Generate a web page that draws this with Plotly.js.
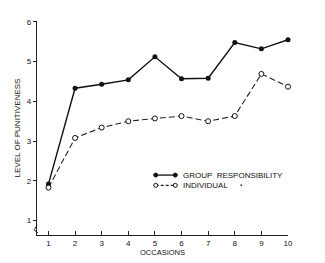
<!DOCTYPE html>
<html><head><meta charset="utf-8">
<script src="https://cdn.plot.ly/plotly-3.0.1.min.js"></script>
<style>body{margin:0;background:#fff}#c{width:325px;height:263px}</style>
</head><body><div id="c"></div>
<script>
const occasions = [1,2,3,4,5,6,7,8,9,10];
const groupResp = [1.92,4.33,4.43,4.54,5.12,4.57,4.58,5.48,5.32,5.55];
const individual = [1.83,3.08,3.34,3.50,3.57,3.63,3.50,3.63,4.69,4.37];
const yTicks = [1,2,3,4,5,6];
const seriesNames = ['GROUP  RESPONSIBILITY', 'INDIVIDUAL'];

const ink = '#111';
const font = {family:'Liberation Sans, Arial, sans-serif', color:ink, size:8};
const traces = [
 {x:occasions, y:groupResp, name:seriesNames[0], mode:'lines+markers', cliponaxis:false, showlegend:false,
  line:{color:ink, width:1.4}, marker:{color:ink, size:5, symbol:'circle'}},
 {x:occasions, y:individual, name:seriesNames[1], mode:'lines+markers', cliponaxis:false, showlegend:false,
  line:{color:'#222', width:1.1, dash:'6px,3px'}, marker:{color:'#fff', size:5, symbol:'circle', line:{color:ink, width:1}}}
];

// manual legend (paper coordinates)
const lgX0 = 0.473, lgX1 = 0.551, lgTx = 0.575, lgY = [0.280, 0.232];
const circ = (x, y, filled) => ({type:'circle', xref:'paper', yref:'paper', xsizemode:'pixel', ysizemode:'pixel',
  xanchor:x, yanchor:y, x0:-2, x1:2, y0:-2, y1:2, fillcolor: filled ? ink : '#fff', line:{color:ink, width:1}});
const shapes = [
 {type:'line', xref:'paper', yref:'paper', x0:lgX0, x1:lgX1, y0:lgY[0], y1:lgY[0], line:{color:ink, width:1.3}},
 circ(lgX0, lgY[0], true), circ(lgX1, lgY[0], true),
 {type:'line', xref:'paper', yref:'paper', x0:lgX0, x1:lgX1, y0:lgY[1], y1:lgY[1], line:{color:'#222', width:1.1, dash:'3px,2px'}},
 circ(lgX0, lgY[1], false), circ(lgX1, lgY[1], false),
 // axis break mark
 {type:'path', xref:'paper', yref:'paper', path:'M 0,0.045 L -0.012,0.024 L 0.004,0.010', line:{color:'#222', width:1}}
];
const annotations = [
 {xref:'paper', yref:'paper', x:lgTx, y:lgY[0], xanchor:'left', yanchor:'middle', text:seriesNames[0], showarrow:false, font:{size:8}},
 {xref:'paper', yref:'paper', x:lgTx, y:lgY[1], xanchor:'left', yanchor:'middle', text:seriesNames[1], showarrow:false, font:{size:8}},
 {xref:'paper', yref:'paper', x:0.814, y:0.232, xanchor:'center', yanchor:'middle', text:'▪', showarrow:false, font:{size:6}}
];
const layout = {
 width:325, height:263, margin:{l:37, r:37, t:21, b:28},
 paper_bgcolor:'#fff', plot_bgcolor:'#fff', font:font, showlegend:false,
 xaxis:{range:[0.57,10.0], tickvals:occasions, ticktext:occasions.map(String), ticks:'inside', ticklen:4, tickwidth:1, tickcolor:'#222',
  showline:true, linecolor:'#222', linewidth:1.2, showgrid:false, zeroline:false, tickfont:{size:8},
  title:{text:'OCCASIONS', font:{size:7.5}, standoff:2}},
 yaxis:{range:[0.64,6.02], tickvals:yTicks, ticks:'outside', ticklen:3, tickwidth:1, tickcolor:'#222',
  showline:true, linecolor:'#222', linewidth:1.2, showgrid:false, zeroline:false, tickfont:{size:8},
  title:{text:'LEVEL OF PUNITIVENESS', font:{size:8}, standoff:5}},
 shapes:shapes, annotations:annotations
};
Plotly.newPlot('c', traces, layout, {staticPlot:true});
</script></body></html>
